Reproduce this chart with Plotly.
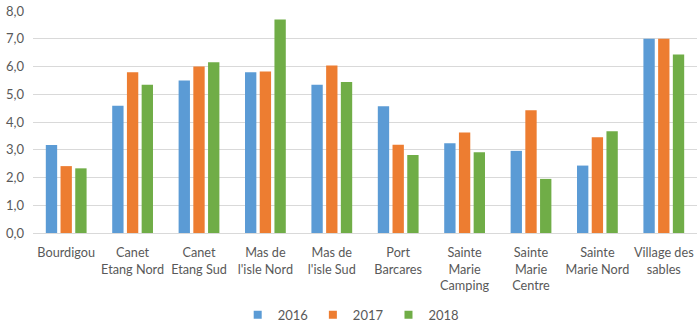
import plotly.graph_objects as go

categories = ["Bourdigou", "Canet<br>Etang Nord", "Canet<br>Etang Sud", "Mas de<br>l'isle Nord",
              "Mas de<br>l'isle Sud", "Port<br>Barcares", "Sainte<br>Marie<br>Camping",
              "Sainte<br>Marie<br>Centre", "Sainte<br>Marie Nord", "Village des<br>sables"]
v2016 = [3.17, 4.59, 5.50, 5.79, 5.34, 4.57, 3.23, 2.96, 2.43, 7.00]
v2017 = [2.41, 5.79, 6.00, 5.82, 6.04, 3.18, 3.62, 4.42, 3.45, 7.00]
v2018 = [2.33, 5.34, 6.15, 7.69, 5.44, 2.81, 2.91, 1.95, 3.67, 6.43]
series_names = ["2016", "2017", "2018"]
colors = ["#5B9BD5", "#ED7D31", "#70AD47"]

FONT = "Lato"
TXT = "#595959"

fig = go.Figure()
for name, vals, col in zip(series_names, [v2016, v2017, v2018], colors):
    fig.add_trace(go.Bar(x=categories, y=vals, name=name, marker_color=col,
                         marker_line_width=0, showlegend=False))
    fig.add_trace(go.Scatter(x=[None], y=[None], mode="markers", name=name,
                             marker=dict(symbol="square", size=8, color=col), showlegend=True))

fig.update_layout(
    width=700, height=327,
    margin=dict(l=33, r=3, t=11, b=94, autoexpand=False),
    paper_bgcolor="white", plot_bgcolor="white",
    barmode="group", bargap=0.335, bargroupgap=0.23,
    separators=", ",
    font=dict(family=FONT, size=13, color=TXT),
    xaxis=dict(showline=True, linecolor="#D9D9D9", linewidth=1, ticks="",
               showgrid=False, automargin=False, tickangle=0, ticklabelstandoff=8,
               tickfont=dict(family=FONT, size=12.7, color=TXT)),
    yaxis=dict(range=[0, 8], dtick=1, tickformat=".1f", showgrid=True,
               gridcolor="#D9D9D9", gridwidth=1, zeroline=False, showline=False,
               ticks="", automargin=False, ticklabelstandoff=8,
               tickfont=dict(family=FONT, size=13, color=TXT)),
    legend=dict(orientation="h", xref="container", yref="container",
                x=0.501, xanchor="center", y=0.037, yanchor="middle",
                font=dict(family=FONT, size=13, color=TXT), itemwidth=30,
                bgcolor="rgba(0,0,0,0)"),
)

fig.write_html("out.html")
